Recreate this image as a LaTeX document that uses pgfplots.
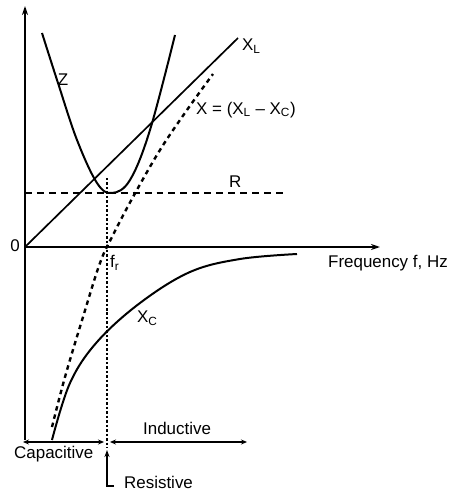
\documentclass[border=0pt]{standalone}
\usepackage{pgfplots}
\pgfplotsset{compat=1.18}
\usepackage{fontspec}
\setmainfont{Liberation Sans}
\usetikzlibrary{arrows.meta}
\tikzset{lab/.style={font={\fontsize{17}{20}\selectfont}, inner sep=0pt}}
\begin{document}
\begin{tikzpicture}
\begin{axis}[
  width=450bp, height=493bp, scale only axis,
  xmin=0, xmax=450, ymin=0, ymax=493, y dir=reverse,
  hide axis, clip=false,
]
% axes
\addplot[black, line width=1.4pt, -{Stealth[length=9pt,width=6pt]}] coordinates {(25,440) (25,6)};
\addplot[black, line width=1.4pt, -{Stealth[length=9pt,width=6pt]}] coordinates {(25,247) (380,247)};
% X_L
\addplot[black, line width=1.7pt] coordinates {(25,247) (238,38)};
% R
\addplot[black, line width=1.7pt, dash pattern=on 7pt off 5pt] coordinates {(25,193) (288,193)};
% f_r dotted
\addplot[black, line width=1.2pt, dash pattern=on 2.5pt off 2pt] coordinates {(107,178) (107,448)};
% Z
\addplot[black, line width=2pt, smooth, tension=0.6] coordinates {
(42,33) (58,83) (77,140) (97,183) (112,193) (130,180) (150,130) (175,35)};
% X = XL - XC
\addplot[black, line width=2.4pt, dash pattern=on 4.5pt off 4pt, smooth, tension=0.6] coordinates {
(52,427) (65,377) (83,317) (100,263) (113,235) (133,197) (160,150) (187,110) (213,74)};
% X_C
\addplot[black, line width=2pt, smooth, tension=0.6] coordinates {
(52,440) (70,383) (97,342) (140,303) (190,272) (240,259) (297,254)};
% bottom arrows
\addplot[black, line width=1.2pt, {Stealth[length=6pt,width=5pt]}-{Stealth[length=6pt,width=5pt]}] coordinates {(23,442) (104,442)};
\addplot[black, line width=1.2pt, {Stealth[length=6pt,width=5pt]}-{Stealth[length=6pt,width=5pt]}] coordinates {(110,442) (247,442)};
\addplot[black, line width=1.4pt, -{Stealth[length=7pt,width=5pt]}] coordinates {(114,486) (107,486) (107,450)};
% labels
\node[lab] at (axis cs:15,246) {0};
\node[lab] at (axis cs:63,80) {Z};
\node[lab, anchor=west] at (axis cs:242,46) {X\textsubscript{L}};
\node[lab, anchor=west] at (axis cs:196,110) {X = (X\textsubscript{L} -- X\textsubscript{C})};
\node[lab, anchor=west] at (axis cs:229,182) {R};
\node[lab, anchor=west] at (axis cs:110,263) {f\textsubscript{r}};
\node[lab, anchor=west] at (axis cs:328,263) {Frequency f, Hz};
\node[lab, anchor=west] at (axis cs:137,318) {X\textsubscript{C}};
\node[lab, anchor=west] at (axis cs:143,428) {Inductive};
\node[lab, anchor=west] at (axis cs:14,454) {Capacitive};
\node[lab, anchor=west] at (axis cs:124,482) {Resistive};
\end{axis}
\pgfresetboundingbox
\path (current axis.south west) rectangle (current axis.north east);
\end{tikzpicture}
\end{document}
